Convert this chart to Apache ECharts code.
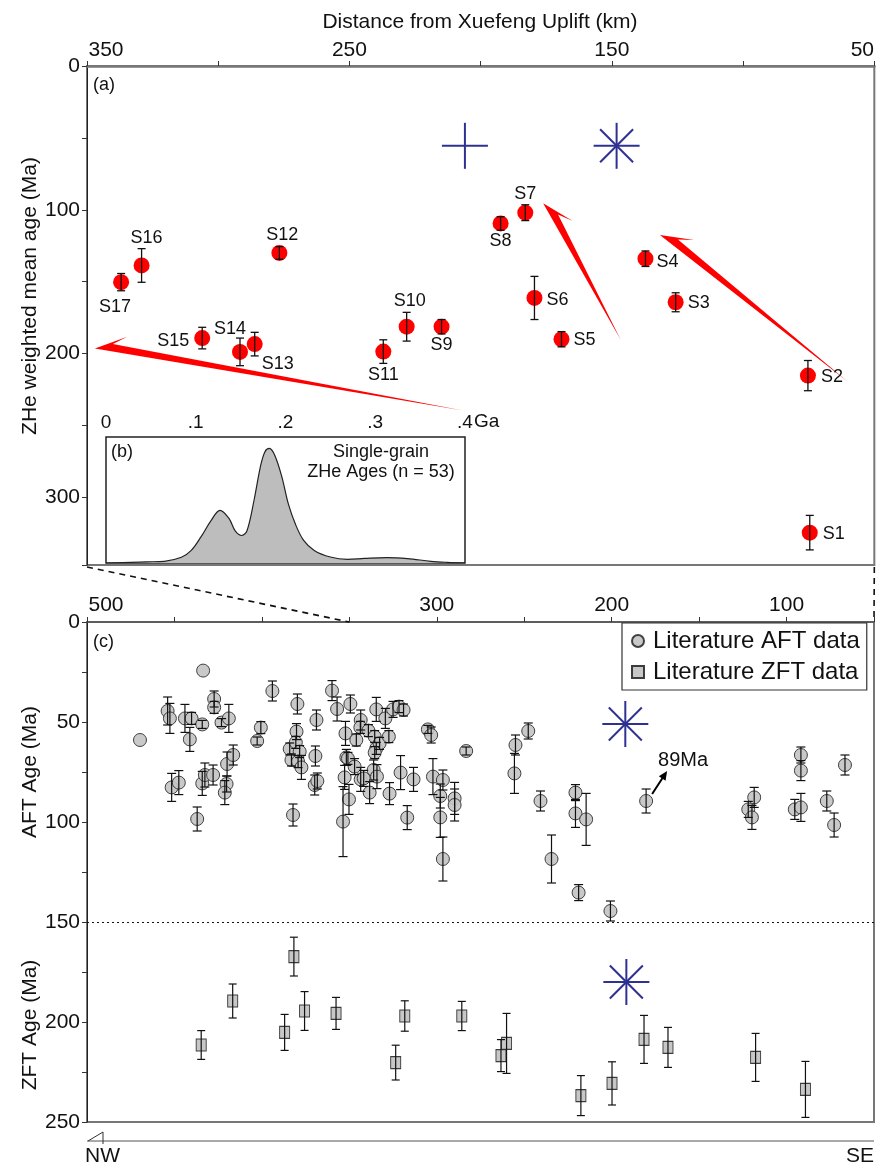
<!DOCTYPE html>
<html><head><meta charset="utf-8">
<script src="https://cdn.jsdelivr.net/npm/echarts@6/dist/echarts.min.js"></script>
<style>html,body{margin:0;padding:0;background:#fff}#c{width:877px;height:1167px}</style>
</head><body><div id="c"></div>
<script>
// ---------- Panel (a): ZHe weighted mean ages ----------
const zheNames = ['S1','S2','S3','S4','S5','S6','S7','S8','S9','S10','S11','S12','S13','S14','S15','S16','S17'];
const zheDist  = [74.6, 75.3, 125.7, 137.2, 169.2, 179.5, 183.0, 192.4, 214.9, 228.2, 237.1, 276.7, 286.1, 291.7, 306.1, 329.2, 337.0];
const zheAge   = [324.5, 215.3, 164.3, 134.0, 190.0, 161.3, 102.0, 109.5, 181.3, 181.3, 198.6, 130.0, 193.4, 198.8, 189.2, 138.7, 150.3];
const zheErr   = [12, 10.5, 6.6, 5.4, 5.3, 15, 5.5, 4.7, 5, 10, 8.2, 4.4, 8.2, 9.6, 7.5, 11.7, 6];
// blue reference markers in (a): [distance, age]
const plusMarksA = [[206, 55.5]];
const starMarksA = [[148.2, 55.5]];
// red trend arrows: [tipDist, tipAge, tailDist, tailAge]
const trendArrows = [[347.0, 196.5, 206.8, 239.5], [176.2, 95.5, 146.6, 190.5], [131.7, 117.5, 60.1, 219.5]];

// ---------- Panel (b): single-grain ZHe age KDE ----------
const kdeAgeGa = [0, 0.046, 0.065, 0.084, 0.095, 0.106, 0.117, 0.127, 0.137, 0.144, 0.151, 0.157, 0.165, 0.172, 0.177, 0.182, 0.188, 0.196, 0.203, 0.211, 0.220, 0.232, 0.25, 0.269, 0.288, 0.313, 0.336, 0.362, 0.38, 0.4];
const kdeDensity = [0, 0.01, 0.015, 0.05, 0.11, 0.23, 0.37, 0.46, 0.39, 0.28, 0.24, 0.28, 0.55, 0.84, 0.97, 1.0, 0.94, 0.75, 0.52, 0.34, 0.2, 0.11, 0.052, 0.032, 0.04, 0.047, 0.038, 0.015, 0.006, 0];

// ---------- Panel (c): literature AFT / ZFT ----------
const aftDist = [469.7,453.9,452.6,444.0,440.2,441.2,434.1,433.6,427.3,427.3,423.1,418.9,451.6,447.5,434.1,432.6,427.9,419.9,416.4,420.2,421.2,437.0,402.7,400.6,394.0,379.7,384.1,380.2,380.6,378.4,383.1,379.3,377.4,382.2,368.8,369.4,369.8,368.3,359.9,357.0,349.4,352.2,351.7,346.0,352.7,353.6,350.2,343.5,343.7,339.1,335.5,334.6,332.7,335.5,327.4,334.6,329.4,325.0,321.6,319.0,350.8,347.0,343.5,341.8,336.1,334.2,338.4,327.0,320.7,313.3,316.9,305.1,303.2,302.2,296.5,298.0,298.0,296.5,289.8,289.8,283.2,255.0,247.7,255.6,240.7,234.4,220.7,220.7,214.6,218.9,200.7,180.3,91.8,91.8,66.6,118.5,121.9,119.8,95.3,91.8,77.0,72.8];
const aftAge  = [59,44.5,48.2,48.2,48.2,58.7,51.2,24.3,38.5,42.7,50.3,48.2,82.7,80.3,80.7,76.5,76.5,71.0,66.5,81.0,85.3,98.5,59.5,52.8,34.5,41.0,63.5,54.8,60.2,64.8,69.0,69.8,72.7,96.5,49.0,67.0,81.5,79.5,34.3,43.5,41.0,55.7,67.7,59.0,77.7,99.8,88.7,49.0,52.7,54.3,57.3,63.2,60.7,65.3,57.3,43.7,48.2,43.7,42.3,44.0,68.2,72.3,78.7,78.2,74.0,77.3,85.3,85.8,75.3,78.7,97.8,53.7,56.5,77.3,79.0,87.0,97.7,118.5,88.2,91.5,64.5,61.5,54.5,75.7,89.5,118.5,85.3,95.7,98.7,135.3,144.5,89.5,66.5,74.3,71.5,87.7,93.7,97.7,93.7,92.7,89.5,101.5];
const aftErr  = [0,7,7.5,7,3,6,2,0,4,3,2,7,7,6,6,6,5,6,5,4,6,6,2,3,5,5,3,4,3,3,3,3,6,5.5,5,5,5,4,5,6,4.5,6,4,3,6,17.5,7.5,5,3,3,3,3,3,3,3,6,5,4,3,3,3,4,6,4,5,6,5.5,5.5,8.5,6,6,2,4,9,5,6,10,11,8,8,2,5,4,10,5,12,4,7,13,4,5,6,4,5,5,5,4,6,5,7,5,6];
const zftDist = [434.7,416.7,387.0,381.7,375.6,357.6,323.5,318.3,285.7,263.3,260.1,217.6,199.8,181.5,167.8,117.7,89.2];
const zftAge  = [211.5,189.5,205.2,167.3,194.5,195.7,220.3,197.0,197.0,216.8,210.7,236.8,230.7,208.7,212.7,217.7,233.7];
const zftErr  = [7.2,8.5,9,9.7,9.7,8,8.7,7.6,7.3,8,15,10,10.8,12,10,12,14];
const starMarksC = [[192.2, 51], [191.6, 180]];
const note89 = {dist: 180.3, age: 89.5, text: '89Ma'};

const FONT = "'Liberation Sans', Arial, Helvetica, sans-serif";
const TXT = '#111';

function errBar(cap, width) {
  return function (params, api) {
    const x = api.value(0), y = api.value(1), e = api.value(2);
    if (!e) return null;
    const a = api.coord([x, y - e]), b = api.coord([x, y + e]);
    const st = {stroke: '#111', lineWidth: width};
    return {type: 'group', children: [
      {type: 'line', shape: {x1: a[0], y1: a[1], x2: b[0], y2: b[1]}, style: st},
      {type: 'line', shape: {x1: a[0] - cap, y1: a[1], x2: a[0] + cap, y2: a[1]}, style: st},
      {type: 'line', shape: {x1: b[0] - cap, y1: b[1], x2: b[0] + cap, y2: b[1]}, style: st}
    ]};
  };
}
function starRender(withDiag) {
  return function (params, api) {
    const p = api.coord([api.value(0), api.value(1)]);
    const h = 23, d = 16.5;
    const st = {stroke: '#2E3192', lineWidth: 2};
    const ch = [
      {type: 'line', shape: {x1: p[0] - h, y1: p[1], x2: p[0] + h, y2: p[1]}, style: st},
      {type: 'line', shape: {x1: p[0], y1: p[1] - h, x2: p[0], y2: p[1] + h}, style: st}
    ];
    if (withDiag) {
      ch.push({type: 'line', shape: {x1: p[0] - d, y1: p[1] - d, x2: p[0] + d, y2: p[1] + d}, style: st});
      ch.push({type: 'line', shape: {x1: p[0] - d, y1: p[1] + d, x2: p[0] + d, y2: p[1] - d}, style: st});
    }
    return {type: 'group', children: ch};
  };
}
function arrowRender(params, api) {
  const t = api.coord([api.value(0), api.value(1)]);
  const e = api.coord([api.value(2), api.value(3)]);
  const dx = e[0] - t[0], dy = e[1] - t[1], L = Math.hypot(dx, dy);
  const ux = dx / L, uy = dy / L, nx = -uy, ny = ux;
  const pt = (a, p) => [t[0] + ux * a + nx * p, t[1] + uy * a + ny * p];
  return {type: 'polygon', shape: {points: [t, pt(30, -17), pt(17, -7.5), e]}, style: {fill: '#FF0000'}};
}

const labelOffsets = {S1:[24,1],S2:[24,1],S3:[23,1],S4:[22,3],S5:[23,1],S6:[23,2],S7:[0,-19],S8:[0,18],S9:[0,18],S10:[3,-26],S11:[0,23],S12:[3,-18],S13:[23,20],S14:[-10,-23],S15:[-29,3],S16:[5,-27],S17:[-6,25]};

const zheData = zheNames.map((n, i) => ({name: n, value: [zheDist[i], zheAge[i]], label: {offset: labelOffsets[n]}}));
const zheErrData = zheNames.map((n, i) => [zheDist[i], zheAge[i], zheErr[i]]);
const kdeData = kdeAgeGa.map((g, i) => [g, kdeDensity[i]]);
const aftData = aftDist.map((d, i) => [d, aftAge[i]]);
const aftErrData = aftDist.map((d, i) => [d, aftAge[i], aftErr[i]]);
const zftData = zftDist.map((d, i) => [d, zftAge[i]]);
const zftErrData = zftDist.map((d, i) => [d, zftAge[i], zftErr[i]]);

const tickLbl = {fontSize: 21, fontFamily: FONT, color: TXT};
const rich = {
  L: {padding: [0, 0, 0, 38], fontSize: 21, fontFamily: FONT, color: TXT},
  R: {padding: [0, 24, 0, 0], fontSize: 21, fontFamily: FONT, color: TXT}
};

const chart = echarts.init(document.getElementById('c'), null, {renderer: 'canvas'});
chart.setOption({
  animation: false,
  backgroundColor: '#fff',
  textStyle: {fontFamily: FONT},
  grid: [
    {left: 87, top: 66, width: 788, height: 499, show: true, borderColor: '#777', borderWidth: 2},
    {left: 106, top: 437, width: 359, height: 126, show: true, borderColor: '#222', borderWidth: 1.5, backgroundColor: '#fff'},
    {left: 87, top: 622, width: 788, height: 500, show: true, borderColor: '#777', borderWidth: 2}
  ],
  xAxis: [
    {gridIndex: 0, type: 'value', position: 'top', inverse: true, min: 50, max: 350, interval: 50,
     axisLine: {lineStyle: {color: '#777', width: 2.5}}, axisTick: {length: 5, lineStyle: {color: '#333'}},
     splitLine: {show: false},
     axisLabel: Object.assign({margin: 5, rich: rich, formatter: v => v === 350 ? '{L|350}' : v === 50 ? '{R|50}' : ((350 - v) % 100 === 0 ? String(v) : '')}, tickLbl)},
    {gridIndex: 1, type: 'value', position: 'top', min: 0, max: 0.4, interval: 0.1,
     axisLine: {show: false}, axisTick: {show: false}, splitLine: {show: false},
     axisLabel: Object.assign({margin: 5, formatter: v => v === 0 ? '0' : '.' + Math.round(v * 10)}, tickLbl, {fontSize: 19})},
    {gridIndex: 2, type: 'value', position: 'top', inverse: true, min: 50, max: 500, interval: 50,
     axisLine: {lineStyle: {color: '#555', width: 1.5}}, axisTick: {length: 5, lineStyle: {color: '#333'}},
     splitLine: {show: false},
     axisLabel: Object.assign({margin: 6, rich: rich, formatter: v => v === 500 ? '{L|500}' : ([300, 200, 100].indexOf(v) >= 0 ? String(v) : '')}, tickLbl)}
  ],
  yAxis: [
    {gridIndex: 0, type: 'value', inverse: true, min: 0, max: 347, interval: 50,
     axisLine: {lineStyle: {color: '#222', width: 1}}, axisTick: {length: 5, lineStyle: {color: '#333'}},
     splitLine: {show: false},
     axisLabel: Object.assign({margin: 7, formatter: v => v % 100 === 0 ? String(v) : ''}, tickLbl)},
    {gridIndex: 1, type: 'value', min: 0, max: 1.1, show: false},
    {gridIndex: 2, type: 'value', inverse: true, min: 0, max: 250, interval: 25,
     axisLine: {lineStyle: {color: '#222', width: 1}}, axisTick: {length: 5, lineStyle: {color: '#333'}},
     splitLine: {show: false},
     axisLabel: Object.assign({margin: 7, formatter: v => v % 50 === 0 ? String(v) : ''}, tickLbl)}
  ],
  legend: {
    orient: 'vertical', left: 622, top: 623, itemWidth: 12, itemHeight: 12, itemGap: 7,
    padding: [6, 7, 6, 9], borderColor: '#333', borderWidth: 1.2, backgroundColor: '#fff',
    textStyle: {fontSize: 24, fontFamily: FONT, color: TXT, padding: [0, 0, 0, 4]},
    data: [{name: 'Literature AFT data', icon: 'circle'}, {name: 'Literature ZFT data', icon: 'rect'}]
  },
  series: [
    {type: 'custom', xAxisIndex: 0, yAxisIndex: 0, data: trendArrows, encode: {x: [0, 2], y: [1, 3]}, renderItem: arrowRender, z: 2, silent: true},
    {type: 'scatter', xAxisIndex: 0, yAxisIndex: 0, data: zheData, symbolSize: 16, z: 3,
     itemStyle: {color: '#FF0000', opacity: 1},
     label: {show: true, position: 'inside', formatter: '{b}', fontSize: 18, fontFamily: FONT, color: TXT}},
    {type: 'custom', xAxisIndex: 0, yAxisIndex: 0, data: zheErrData, encode: {x: 0, y: 1}, renderItem: errBar(4, 1.3), z: 4, silent: true},
    {type: 'custom', xAxisIndex: 0, yAxisIndex: 0, data: plusMarksA, encode: {x: 0, y: 1}, renderItem: starRender(false), z: 4, silent: true},
    {type: 'custom', xAxisIndex: 0, yAxisIndex: 0, data: starMarksA, encode: {x: 0, y: 1}, renderItem: starRender(true), z: 4, silent: true},
    {type: 'line', xAxisIndex: 1, yAxisIndex: 1, data: kdeData, smooth: 0.35, symbol: 'none', z: 5,
     lineStyle: {color: '#222', width: 1.2}, areaStyle: {color: '#BDBDBD', opacity: 1}},
    {name: 'Literature AFT data', type: 'scatter', xAxisIndex: 2, yAxisIndex: 2, data: aftData, symbol: 'circle', symbolSize: 13, z: 3,
     itemStyle: {color: '#C4C4C4', borderColor: '#333', borderWidth: 1, opacity: 0.92},
     markLine: {silent: true, symbol: ['none', 'none'], label: {show: false}, lineStyle: {type: [2, 3], color: '#111', width: 1}, data: [{yAxis: 150}]}},
    {type: 'custom', xAxisIndex: 2, yAxisIndex: 2, data: aftErrData, encode: {x: 0, y: 1}, renderItem: errBar(4.5, 1.2), z: 4, silent: true},
    {name: 'Literature ZFT data', type: 'scatter', xAxisIndex: 2, yAxisIndex: 2, data: zftData, symbol: 'rect', symbolSize: [10, 12], z: 3,
     itemStyle: {color: '#C4C4C4', borderColor: '#333', borderWidth: 1, opacity: 0.95}},
    {type: 'custom', xAxisIndex: 2, yAxisIndex: 2, data: zftErrData, encode: {x: 0, y: 1}, renderItem: errBar(4, 1.2), z: 4, silent: true},
    {type: 'custom', xAxisIndex: 2, yAxisIndex: 2, data: starMarksC, encode: {x: 0, y: 1}, renderItem: starRender(true), z: 4, silent: true}
  ]
});

// decorations positioned from the axes
const aBL = chart.convertToPixel({gridIndex: 0}, [350, 347]);
const aBR = chart.convertToPixel({gridIndex: 0}, [50, 347]);
const c350 = chart.convertToPixel({gridIndex: 2}, [350, 0]);
const c50 = chart.convertToPixel({gridIndex: 2}, [50, 0]);
const cBL = chart.convertToPixel({gridIndex: 2}, [500, 250]);
const cBR = chart.convertToPixel({gridIndex: 2}, [50, 250]);
const p89 = chart.convertToPixel({gridIndex: 2}, [note89.dist, note89.age]);
const a0 = [p89[0] + 6, p89[1] - 7], a1 = [p89[0] + 21, p89[1] - 30];
const adx = a1[0] - a0[0], ady = a1[1] - a0[1], aL = Math.hypot(adx, ady);
const aux = adx / aL, auy = ady / aL;
const head = [a1, [a1[0] - aux * 9 - auy * 4, a1[1] - auy * 9 + aux * 4], [a1[0] - aux * 9 + auy * 4, a1[1] - auy * 9 - aux * 4]];
const gaPos = chart.convertToPixel({gridIndex: 1}, [0.4, 1.1]);
const yBar = cBL[1] + 19;

const txt = (x, y, s, size, opts) => Object.assign({type: 'text', x: x, y: y, z: 50,
  style: Object.assign({text: s, fontSize: size, fontFamily: FONT, fill: TXT, align: 'left', verticalAlign: 'middle'}, opts || {})});

chart.setOption({graphic: [
  txt(480, 22, 'Distance from Xuefeng Uplift (km)', 21, {align: 'center'}),
  Object.assign(txt(30, 296, 'ZHe weighted mean age (Ma)', 21, {align: 'center'}), {rotation: Math.PI / 2}),
  Object.assign(txt(30, 772, 'AFT Age (Ma)', 21, {align: 'center'}), {rotation: Math.PI / 2}),
  Object.assign(txt(30, 1025, 'ZFT Age (Ma)', 21, {align: 'center'}), {rotation: Math.PI / 2}),
  txt(93, 85, '(a)', 18),
  txt(111, 452, '(b)', 18),
  txt(93, 642, '(c)', 18),
  txt(gaPos[0] + 9, gaPos[1] - 15, 'Ga', 19),
  txt(381, 452, 'Single-grain', 18, {align: 'center'}),
  txt(381, 472, 'ZHe Ages (n = 53)', 18, {align: 'center'}),
  txt(p89[0] + 12, p89[1] - 41, note89.text, 20),
  {type: 'line', z: 50, shape: {x1: a0[0], y1: a0[1], x2: a1[0] - aux * 6, y2: a1[1] - auy * 6}, style: {stroke: '#000', lineWidth: 2}},
  {type: 'polygon', z: 50, shape: {points: head}, style: {fill: '#000'}},
  {type: 'line', z: 50, shape: {x1: aBL[0], y1: aBL[1] + 2, x2: c350[0], y2: c350[1]}, style: {stroke: '#111', lineWidth: 1.6, lineDash: [6, 5]}},
  {type: 'line', z: 50, shape: {x1: aBR[0], y1: aBR[1] + 2, x2: c50[0], y2: c50[1]}, style: {stroke: '#111', lineWidth: 1.6, lineDash: [6, 5]}},
  {type: 'line', z: 50, shape: {x1: cBL[0], y1: yBar, x2: cBR[0], y2: yBar}, style: {stroke: '#555', lineWidth: 1.2}},
  {type: 'polyline', z: 50, shape: {points: [[cBL[0] + 1, yBar], [cBL[0] + 16, yBar - 9], [cBL[0] + 16, yBar + 3]]}, style: {stroke: '#333', lineWidth: 1, fill: null}},
  txt(cBL[0] - 2, yBar + 15, 'NW', 21),
  txt(cBR[0], yBar + 15, 'SE', 21, {align: 'right'})
]});
</script>
</body></html>
